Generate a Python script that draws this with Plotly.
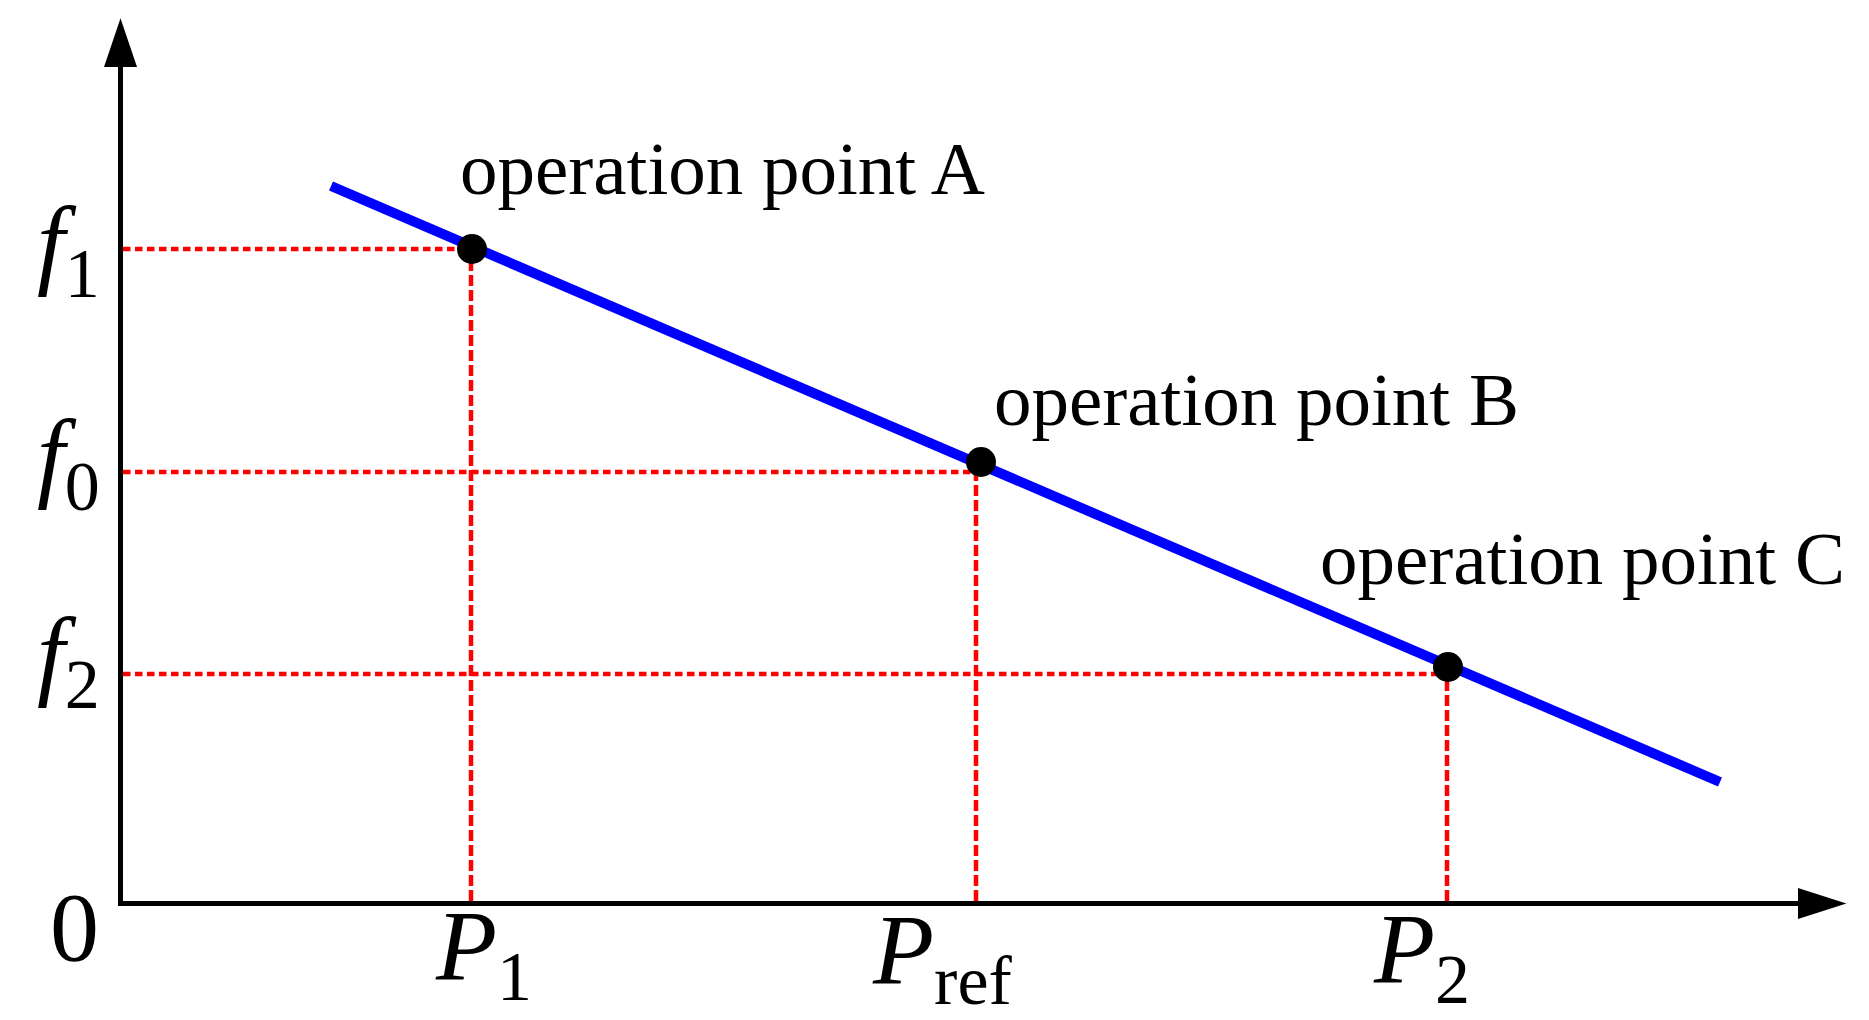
import plotly.graph_objects as go

# ---------------- data (arbitrary units) ----------------
power_labels = ["<i>P</i><sub>1</sub>", "<i>P</i><sub>ref</sub>", "<i>P</i><sub>2</sub>"]
power_values = [3.48, 8.53, 13.24]
freq_labels = ["<i>f</i><sub>1</sub>", "<i>f</i><sub>0</sub>", "<i>f</i><sub>2</sub>"]
freq_values = [6.52, 4.29, 2.27]
droop_p = [2.08, 15.97]
droop_f = [7.15, 1.19]
op_names = ["operation point A", "operation point B", "operation point C"]
op_p = [3.49, 8.58, 13.25]
op_f = [6.52, 4.39, 2.34]
origin_label = "0"
x_max = 16.76
y_max = 8.34

# ---------------- layout / style constants ----------------
W, H = 1869, 1020
L, R, T, B = 123, 1799, 67, 901          # plot area in pixels
FONT = "Liberation Serif, Times New Roman, serif"
AXIS_W = 5

power_xshift = [-37.7, -106, -75.6]
power_yshift = [12.8, 8.8, 10.4]
freq_xshift = -21
freq_yshift = [0, 9.3, 13.4]
op_xshift = [-14.1, 10.6, -130.4]
op_yshift = [36.8, 19.1, 65.2]


def paper(px, py):
    return (px - L) / (R - L), (B - py) / (B - T)


fig = go.Figure()

# red dashed guide lines: horizontal (axis -> point) and vertical (axis -> point)
hx, hy, vx, vy = [], [], [], []
for p, f in zip(power_values, freq_values):
    hx += [0, p, None]
    hy += [f, f, None]
    vx += [p, p, None]
    vy += [0, f, None]
fig.add_trace(go.Scatter(x=hx, y=hy, mode="lines", hoverinfo="skip",
                         line=dict(color="#ff0000", width=4.5, dash="7.5px,4.5px")))
fig.add_trace(go.Scatter(x=vx, y=vy, mode="lines", hoverinfo="skip",
                         line=dict(color="#ff0000", width=4.5, dash="11px,4px")))

# droop characteristic
fig.add_trace(go.Scatter(x=droop_p, y=droop_f, mode="lines",
                         line=dict(color="#0000ff", width=10)))

# operation points
fig.add_trace(go.Scatter(x=op_p, y=op_f, mode="markers",
                         marker=dict(color="black", size=30, line=dict(width=0))))

annotations = []
for name, p, f, xs, ys in zip(op_names, op_p, op_f, op_xshift, op_yshift):
    annotations.append(dict(x=p, y=f, xref="x", yref="y", text=name, showarrow=False,
                            xanchor="left", yanchor="bottom", xshift=xs, yshift=ys,
                            font=dict(family=FONT, size=75, color="black")))
for lab, p, xs, ys in zip(power_labels, power_values, power_xshift, power_yshift):
    annotations.append(dict(x=p, y=0, xref="x", yref="y", text=lab, showarrow=False,
                            xanchor="left", yanchor="top", xshift=xs, yshift=ys,
                            font=dict(family=FONT, size=100, color="black")))
for lab, f, ys in zip(freq_labels, freq_values, freq_yshift):
    annotations.append(dict(x=0, y=f, xref="x", yref="y", text=lab, showarrow=False,
                            xanchor="right", yanchor="middle", xshift=freq_xshift, yshift=ys,
                            font=dict(family=FONT, size=100, color="black")))
annotations.append(dict(x=0, y=0, xref="x", yref="y", text=origin_label, showarrow=False,
                        xanchor="center", yanchor="top", xshift=-48.4, yshift=30.3,
                        font=dict(family=FONT, size=98, color="black")))

# arrow heads of the two axes
ax_tip = paper(120.5, 18.3)
ay_l = paper(104, 67)
ay_r = paper(137, 67)
bx_tip = paper(1846.4, 903.5)
bx_t = paper(1798, 888)
bx_b = paper(1798, 919)


def tri(a, b, c):
    return "M {} {} L {} {} L {} {} Z".format(a[0], a[1], b[0], b[1], c[0], c[1])


shapes = [
    dict(type="path", xref="paper", yref="paper", path=tri(ax_tip, ay_l, ay_r),
         fillcolor="black", line=dict(width=0)),
    dict(type="path", xref="paper", yref="paper", path=tri(bx_tip, bx_t, bx_b),
         fillcolor="black", line=dict(width=0)),
]

axis_style = dict(showline=True, linewidth=AXIS_W, linecolor="black", showgrid=False,
                  zeroline=False, showticklabels=False, ticks="", fixedrange=True)

fig.update_layout(
    width=W, height=H, autosize=False,
    margin=dict(l=L, r=W - R, t=T, b=H - B, pad=0),
    paper_bgcolor="white", plot_bgcolor="white",
    showlegend=False,
    xaxis=dict(range=[0, x_max], **axis_style),
    yaxis=dict(range=[0, y_max], **axis_style),
    annotations=annotations,
    shapes=shapes,
)

fig.write_html("out.html", config={"displayModeBar": False},
               post_script="document.body.style.margin='0px';")
